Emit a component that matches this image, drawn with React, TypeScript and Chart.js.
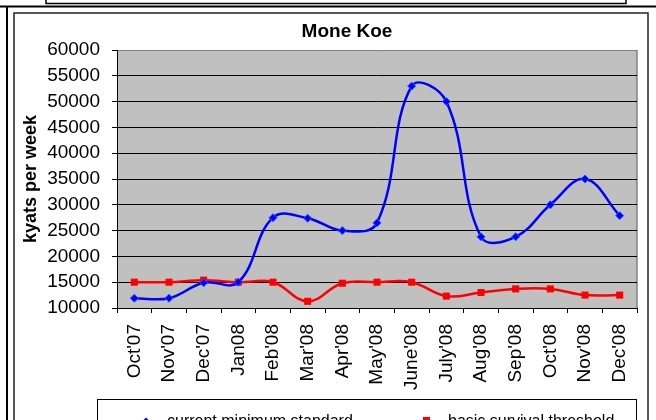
import React, { useEffect, useRef } from "react";
import { Chart, registerables } from "chart.js";

Chart.register(...registerables);

const chartTitle = "Mone Koe";
const yAxisTitle = "kyats per week";
const categories = [
  "Oct'07", "Nov'07", "Dec'07", "Jan08", "Feb'08", "Mar'08", "Apr'08", "May'08",
  "June'08", "July'08", "Aug'08", "Sep'08", "Oct'08", "Nov'08", "Dec'08",
];
const currentMinimumStandard = [
  11900, 11900, 14900, 15000, 27500, 27400, 25000, 26500,
  53000, 50000, 23800, 23800, 30000, 35000, 27900,
];
const basicSurvivalThreshold = [
  15000, 15000, 15400, 15000, 15000, 11300, 14800, 15000,
  15000, 12300, 13000, 13700, 13700, 12500, 12500,
];
const seriesNames = ["current minimum standard", "basic survival threshold"];
const yMin = 10000;
const yMax = 60000;
const yStep = 5000;

const FONT = "'Liberation Sans', Arial, sans-serif";

const decorPlugin = {
  id: "decor",
  beforeDraw(chart: any) {
    const { ctx, chartArea: a } = chart;
    ctx.save();
    ctx.fillStyle = "#ffffff";
    ctx.fillRect(0, 0, chart.width, chart.height);
    ctx.fillStyle = "#C0C0C0";
    ctx.fillRect(a.left, a.top, a.right - a.left, a.bottom - a.top);
    ctx.strokeStyle = "#808080";
    ctx.lineWidth = 1.5;
    ctx.beginPath();
    ctx.moveTo(a.right, a.top);
    ctx.lineTo(a.right, a.bottom);
    ctx.stroke();
    ctx.restore();
  },
  afterDraw(chart: any) {
    const { ctx } = chart;
    ctx.save();
    // chart title
    ctx.fillStyle = "#000";
    ctx.font = `bold 19px ${FONT}`;
    ctx.textAlign = "center";
    ctx.textBaseline = "middle";
    ctx.fillText(chartTitle, 347, 32);
    ctx.strokeStyle = "#000";
    // top box from previous content
    ctx.lineWidth = 1.5;
    ctx.beginPath();
    ctx.moveTo(46, 0);
    ctx.lineTo(46, 3.5);
    ctx.lineTo(626, 3.5);
    ctx.lineTo(626, 0);
    ctx.stroke();
    // outer frame
    ctx.lineWidth = 2;
    ctx.beginPath();
    ctx.moveTo(0, 6.5);
    ctx.lineTo(656, 6.5);
    ctx.moveTo(7, 6.5);
    ctx.lineTo(7, 420);
    ctx.stroke();
    // chart border
    ctx.strokeStyle = "#222";
    ctx.lineWidth = 1.5;
    ctx.strokeRect(14, 13, 634, 430);
    // legend box
    ctx.strokeStyle = "#000";
    ctx.lineWidth = 1;
    ctx.strokeRect(97.5, 399.5, 539, 40);
    // legend entry 1 marker
    ctx.fillStyle = "#0000FF";
    ctx.beginPath();
    ctx.moveTo(146, 417.5);
    ctx.lineTo(150.5, 422);
    ctx.lineTo(146, 426.5);
    ctx.lineTo(141.5, 422);
    ctx.closePath();
    ctx.fill();
    // legend entry 2 marker
    ctx.fillStyle = "#FF0000";
    ctx.fillRect(423, 417, 7, 7);
    ctx.fillStyle = "#000";
    ctx.font = `16px ${FONT}`;
    ctx.textBaseline = "alphabetic";
    ctx.textAlign = "left";
    ctx.fillText(seriesNames[0], 167, 426);
    ctx.fillText(seriesNames[1], 448, 426);
    ctx.restore();
  },
};

export default function App() {
  const ref = useRef<HTMLCanvasElement | null>(null);
  useEffect(() => {
    if (!ref.current) return;
    const chart = new Chart(ref.current, {
      type: "line",
      data: {
        labels: categories,
        datasets: [
          {
            label: seriesNames[0],
            data: currentMinimumStandard,
            borderColor: "#0000FF",
            backgroundColor: "#0000FF",
            borderWidth: 2.5,
            tension: 0.4,
            pointStyle: "rectRot",
            pointRadius: 4,
            pointBorderColor: "#2255FF",
            pointBackgroundColor: "#0000FF",
            pointBorderWidth: 1,
            fill: false,
          },
          {
            label: seriesNames[1],
            data: basicSurvivalThreshold,
            borderColor: "#FF0000",
            backgroundColor: "#FF0000",
            borderWidth: 2.5,
            tension: 0.4,
            pointStyle: "rect",
            pointRadius: 5,
            pointBorderColor: "#FF0000",
            pointBackgroundColor: "#FF0000",
            pointBorderWidth: 0,
            fill: false,
          },
        ],
      },
      options: {
        responsive: false,
        animation: false,
        layout: { padding: { left: 15, top: 50, right: 19, bottom: 0 } },
        plugins: {
          legend: { display: false },
          tooltip: { enabled: false },
          title: { display: false },
        },
        scales: {
          x: {
            offset: true,
            grid: {
              display: true,
              offset: true,
              drawOnChartArea: false,
              drawTicks: true,
              tickLength: 5,
              color: "#000",
              tickColor: "#000",
            },
            border: { display: true, color: "#000", width: 1 },
            ticks: {
              color: "#000",
              font: { family: FONT, size: 19 },
              maxRotation: 90,
              minRotation: 90,
              padding: 11,
              autoSkip: false,
            },
            afterFit(scale: any) {
              scale.height = 112;
            },
          },
          y: {
            min: yMin,
            max: yMax,
            grid: {
              color: (c: any) => (c.tick && c.tick.value === yMax ? "#808080" : "#000"),
              tickColor: "#000",
              tickLength: 5,
              lineWidth: 1,
            },
            border: { display: true, color: "#000", width: 1 },
            ticks: {
              stepSize: yStep,
              color: "#000",
              font: { family: FONT, size: 19 },
              padding: 12,
              callback: (v: any) => String(v),
            },
            title: {
              display: true,
              text: yAxisTitle,
              color: "#000",
              font: { family: FONT, size: 18, weight: "bold" },
              padding: { top: 5, bottom: 0 },
            },
            afterFit(scale: any) {
              scale.width = 102;
            },
          },
        },
      },
      plugins: [decorPlugin],
    });
    return () => chart.destroy();
  }, []);
  return (
    <div style={{ position: "absolute", left: 0, top: 0, width: 656, height: 420 }}>
      <canvas ref={ref} width={656} height={420} style={{ display: "block", width: 656, height: 420 }} />
    </div>
  );
}
